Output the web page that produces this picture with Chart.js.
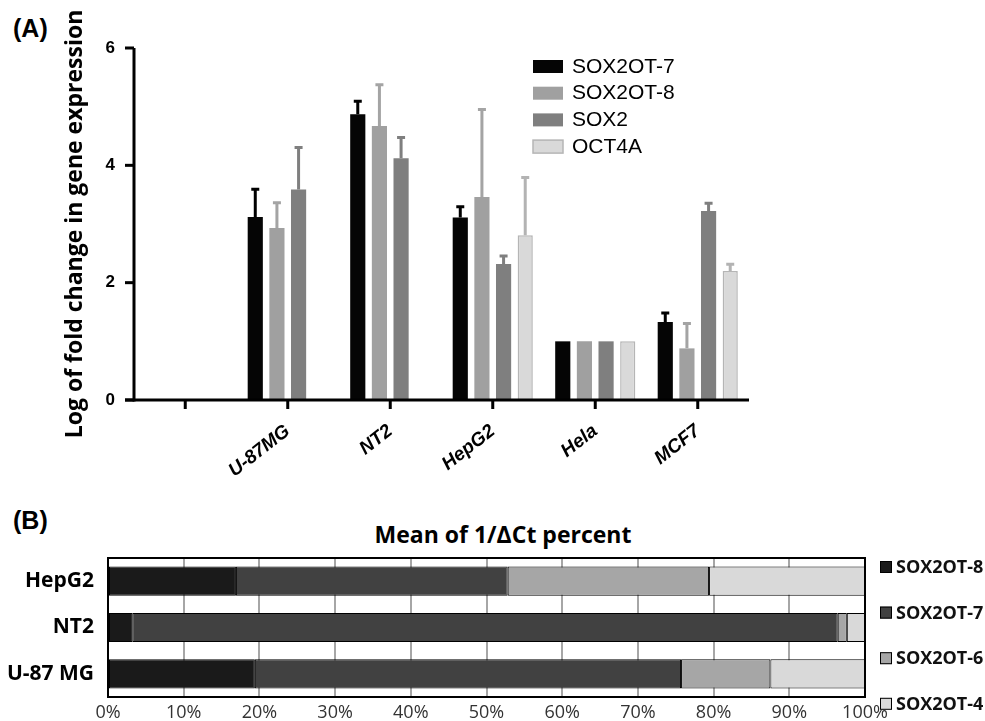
<!DOCTYPE html>
<html>
<head>
<meta charset="utf-8">
<script src="https://cdn.jsdelivr.net/npm/chart.js@4.4.0/dist/chart.umd.min.js"></script>
<style>
  html, body { margin: 0; padding: 0; background: #fff; }
  body { width: 985px; height: 721px; position: relative; overflow: hidden; }
  canvas { position: absolute; left: 0; }
  #chartA { top: 0; }
  #chartB { top: 515px; }
  .lbl { position: absolute; font-weight: bold; color: #000; white-space: nowrap; line-height: 1; }
  #panelA { left: 13px; top: 16px; font-size: 25px; font-family: "Liberation Sans", Arial, sans-serif; }
  #panelB { left: 13px; top: 508px; font-size: 25px; font-family: "Liberation Sans", Arial, sans-serif; }
  #titleB { left: 503px; top: 523px; font-size: 23px; font-family: "Open Sans", sans-serif; transform: translateX(-50%); }
</style>
</head>
<body>
<div class="lbl" id="panelA">(A)</div>
<div class="lbl" id="panelB">(B)</div>
<div class="lbl" id="titleB">Mean of 1/ΔCt percent</div>
<canvas id="chartA" width="985" height="480"></canvas>
<canvas id="chartB" width="985" height="206"></canvas>
<script>
// (A) log fold change, mean and error (upper SD)
const cellLines = ['', 'U-87MG', 'NT2', 'HepG2', 'Hela', 'MCF7'];
const sox2ot7 = [null, 3.12, 4.87, 3.11, 1.0, 1.33];
const sox2ot7Err = [null, 0.49, 0.24, 0.20, 0, 0.17];
const sox2ot8 = [null, 2.93, 4.67, 3.46, 1.0, 0.88];
const sox2ot8Err = [null, 0.45, 0.72, 1.51, 0, 0.44];
const sox2 = [null, 3.59, 4.12, 2.32, 1.0, 3.22];
const sox2Err = [null, 0.73, 0.37, 0.15, 0, 0.15];
const oct4a = [null, null, null, 2.81, 1.0, 2.20];
const oct4aErr = [null, null, null, 1.00, 0, 0.13];
const yTicksA = [0, 2, 4, 6];

// (B) mean of 1/dCt percent
const linesB = ['HepG2', 'NT2', 'U-87 MG'];
const pct8 = [16.9, 3.2, 19.4];
const pct7 = [35.9, 93.2, 56.3];
const pct6 = [26.6, 1.2, 11.8];
const pct4 = [20.6, 2.4, 12.5];

const errorBars = {
  id: 'errorBars',
  afterDatasetsDraw(chart) {
    const ctx = chart.ctx;
    const y = chart.scales.y;
    chart.data.datasets.forEach((ds, i) => {
      const meta = chart.getDatasetMeta(i);
      meta.data.forEach((bar, j) => {
        const v = ds.data[j];
        const e = ds.errors[j];
        if (v == null || !e) return;
        const top = y.getPixelForValue(v + e);
        ctx.save();
        ctx.strokeStyle = ds.errorColor;
        ctx.lineWidth = 3;
        ctx.beginPath();
        ctx.moveTo(bar.x, bar.y);
        ctx.lineTo(bar.x, top);
        ctx.moveTo(bar.x - 4, top + 1);
        ctx.lineTo(bar.x + 4, top + 1);
        ctx.stroke();
        ctx.restore();
      });
    });
  }
};

// thick black axes with outside ticks, taken from the scales
const axesA = {
  id: 'axesA',
  afterDraw(chart) {
    const ctx = chart.ctx;
    const a = chart.chartArea;
    const xs = chart.scales.x;
    const ys = chart.scales.y;
    ctx.save();
    ctx.fillStyle = '#000';
    ctx.fillRect(a.left - 1.5, a.top, 3, a.bottom - a.top + 1.5);
    ctx.fillRect(a.left - 9, a.bottom - 1.5, a.right - a.left + 9, 3);
    for (let i = 0; i < yTicksA.length; i++) {
      const py = ys.getPixelForValue(yTicksA[i]);
      ctx.fillRect(a.left - 9, py - 1.5, 9, 3);
    }
    for (let i = 0; i < cellLines.length; i++) {
      const px = xs.getPixelForValue(i);
      ctx.fillRect(px - 1.5, a.bottom, 3, 9);
    }
    ctx.restore();
  }
};

const legendA = {
  id: 'legendA',
  afterDraw(chart) {
    const ctx = chart.ctx;
    ctx.save();
    chart.data.datasets.forEach((ds, i) => {
      const yy = 60 + i * 26.7;
      ctx.fillStyle = ds.backgroundColor;
      ctx.fillRect(533, yy, 30, 13);
      if (ds.borderWidth) {
        ctx.strokeStyle = ds.borderColor;
        ctx.lineWidth = 1.5;
        ctx.strokeRect(533, yy, 30, 13);
      }
      ctx.fillStyle = '#000';
      ctx.font = '21px "Liberation Sans", Arial, sans-serif';
      ctx.textBaseline = 'middle';
      ctx.fillText(ds.label, 572, yy + 7);
    });
    ctx.restore();
  }
};

new Chart(document.getElementById('chartA'), {
  type: 'bar',
  data: {
    labels: cellLines,
    datasets: [
      { label: 'SOX2OT-7', data: sox2ot7, errors: sox2ot7Err, backgroundColor: '#050505', errorColor: '#000', borderWidth: 0 },
      { label: 'SOX2OT-8', data: sox2ot8, errors: sox2ot8Err, backgroundColor: '#a0a0a0', errorColor: '#a4a4a4', borderWidth: 0 },
      { label: 'SOX2', data: sox2, errors: sox2Err, backgroundColor: '#7f7f7f', errorColor: '#7f7f7f', borderWidth: 0 },
      { label: 'OCT4A', data: oct4a, errors: oct4aErr, backgroundColor: '#d9d9d9', errorColor: '#b3b3b3', borderColor: '#b5b5b5', borderWidth: 1.5 }
    ]
  },
  options: {
    responsive: false,
    animation: false,
    categoryPercentage: 0.845,
    barPercentage: 0.7,
    layout: { padding: { left: 62, right: 236, top: 48, bottom: 0 } },
    plugins: { legend: { display: false }, tooltip: { enabled: false } },
    scales: {
      x: {
        afterFit(scale) { scale.height = 80; },
        grid: { display: false, offset: false },
        border: { display: false },
        ticks: {
          minRotation: 38, maxRotation: 38, padding: 12,
          color: '#000',
          font: { family: '"Liberation Sans", Arial, sans-serif', size: 19, weight: 'bold', style: 'italic' }
        }
      },
      y: {
        min: 0, max: 6,
        afterFit(scale) { scale.width = 72; },
        afterBuildTicks(scale) { scale.ticks = yTicksA.map(v => ({ value: v })); },
        grid: { display: false },
        border: { display: false },
        ticks: {
          padding: 11, color: '#000',
          font: { family: '"Liberation Sans", Arial, sans-serif', size: 17, weight: 'bold' }
        },
        title: {
          display: true, text: 'Log of fold change in gene expression', color: '#000', padding: 0,
          font: { family: '"Open Sans", sans-serif', size: 23, weight: 'bold' }
        }
      }
    }
  },
  plugins: [errorBars, axesA, legendA]
});

const areaBorder = {
  id: 'areaBorder',
  afterDatasetsDraw(chart) {
    const { ctx, chartArea: a } = chart;
    ctx.save();
    ctx.strokeStyle = '#000';
    ctx.lineWidth = 2;
    ctx.strokeRect(a.left, a.top, a.right - a.left, a.bottom - a.top);
    ctx.restore();
  }
};

const legendB = {
  id: 'legendB',
  afterDraw(chart) {
    const ctx = chart.ctx;
    ctx.save();
    chart.data.datasets.forEach((ds, i) => {
      const yy = 52 + i * 45.6;
      ctx.fillStyle = ds.backgroundColor;
      ctx.fillRect(880, yy - 6, 12, 12);
      ctx.strokeStyle = '#000';
      ctx.lineWidth = 1;
      ctx.strokeRect(880.5, yy - 5.5, 11, 11);
      ctx.fillStyle = '#111';
      ctx.font = 'bold 18px "Open Sans", sans-serif';
      ctx.textBaseline = 'middle';
      ctx.fillText(ds.label, 896, yy + 1);
    });
    ctx.restore();
  }
};

new Chart(document.getElementById('chartB'), {
  type: 'bar',
  data: {
    labels: linesB,
    datasets: [
      { label: 'SOX2OT-8', data: pct8, backgroundColor: '#1a1a1a' },
      { label: 'SOX2OT-7', data: pct7, backgroundColor: '#414141' },
      { label: 'SOX2OT-6', data: pct6, backgroundColor: '#a6a6a6' },
      { label: 'SOX2OT-4', data: pct4, backgroundColor: '#d9d9d9' }
    ]
  },
  options: {
    indexAxis: 'y',
    responsive: false,
    animation: false,
    categoryPercentage: 1,
    barPercentage: 0.63,
    datasets: { bar: { borderColor: '#000', borderWidth: 1, borderSkipped: false } },
    layout: { padding: { left: 0, right: 120, top: 43, bottom: 0 } },
    plugins: { legend: { display: false }, tooltip: { enabled: false } },
    scales: {
      x: {
        stacked: true, min: 0, max: 100,
        afterFit(scale) { scale.height = 24; },
        grid: { color: '#a6a6a6', lineWidth: 2, drawTicks: false },
        border: { display: false },
        ticks: {
          stepSize: 10, padding: 5, color: '#333',
          callback: v => v + '%',
          font: { family: '"Open Sans", sans-serif', size: 18 }
        }
      },
      y: {
        stacked: true,
        afterFit(scale) { scale.width = 108; },
        grid: { display: false },
        border: { display: false },
        ticks: {
          padding: 6, color: '#000',
          font: { family: '"Open Sans", sans-serif', size: 21, weight: 'bold' }
        }
      }
    }
  },
  plugins: [areaBorder, legendB]
});
</script>
</body>
</html>
